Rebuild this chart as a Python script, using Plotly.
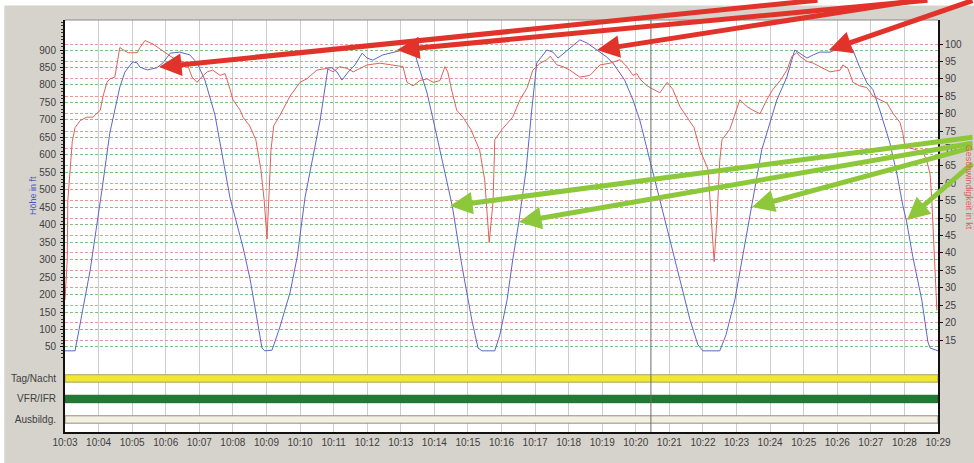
import pandas as pd
import plotly.graph_objects as go

DAY = "2024-05-01 "

# ---- Höhe (ft), blue, left axis ----
alt_time = ["10:03:00", "10:03:18", "10:03:25", "10:03:45", "10:04:06", "10:04:20", "10:04:38", "10:04:47", "10:05:01", "10:05:09",
            "10:05:14", "10:05:27", "10:05:44", "10:05:55", "10:06:08", "10:06:25", "10:06:43", "10:06:56", "10:07:10", "10:07:28",
            "10:07:55", "10:08:18", "10:08:31", "10:08:43", "10:08:52", "10:08:57", "10:09:10", "10:09:24", "10:09:42", "10:09:55",
            "10:10:03", "10:10:09", "10:10:36", "10:10:50", "10:10:57", "10:11:06", "10:11:15", "10:11:26", "10:11:38", "10:11:51",
            "10:12:00", "10:12:10", "10:12:28", "10:12:46", "10:13:04", "10:13:16", "10:13:25", "10:13:34", "10:13:47", "10:13:58",
            "10:14:10", "10:14:32", "10:14:49", "10:15:07", "10:15:18", "10:15:25", "10:15:48", "10:15:57", "10:16:10", "10:16:20",
            "10:16:31", "10:16:44", "10:16:54", "10:17:03", "10:17:21", "10:17:32", "10:17:41", "10:17:48", "10:17:57", "10:18:20",
            "10:18:33", "10:18:51", "10:19:08", "10:19:19", "10:19:40", "10:19:55", "10:20:07", "10:20:25", "10:20:43", "10:21:01",
            "10:21:19", "10:21:37", "10:21:51", "10:22:00", "10:22:30", "10:22:41", "10:22:57", "10:23:13", "10:23:28", "10:23:45",
            "10:24:12", "10:24:30", "10:24:44", "10:24:53", "10:25:06", "10:25:17", "10:25:29", "10:25:47", "10:26:05", "10:26:19",
            "10:26:28", "10:26:40", "10:26:53", "10:27:04", "10:27:16", "10:27:34", "10:27:47", "10:27:57", "10:28:04", "10:28:15",
            "10:28:31", "10:28:42", "10:28:46", "10:29:00"]
alt_ft = [39, 39, 99, 270, 499, 662, 794, 837, 866, 863,
          851, 843, 849, 863, 891, 894, 886, 863, 814, 714,
          476, 336, 242, 127, 47, 39, 41, 107, 205, 308,
          405, 479, 700, 849, 849, 837, 814, 837, 857, 891,
          877, 871, 886, 894, 900, 909, 891, 843, 777, 700,
          614, 454, 285, 127, 47, 39, 39, 84, 185, 299,
          408, 557, 728, 863, 900, 894, 877, 886, 900, 929,
          920, 900, 880, 863, 814, 757, 700, 585, 471, 356,
          242, 127, 56, 39, 39, 84, 185, 328, 451, 614,
          757, 823, 900, 891, 877, 886, 894, 894, 906, 909,
          900, 851, 806, 786, 728, 634, 542, 456, 408, 308,
          185, 64, 47, 39]

# ---- Geschwindigkeit (kt), red, right axis ----
spd_time = ["10:03:00", "10:03:04", "10:03:05", "10:03:13", "10:03:18", "10:03:27", "10:03:39", "10:03:50", "10:04:03", "10:04:08",
            "10:04:15", "10:04:20", "10:04:29", "10:04:38", "10:04:47", "10:04:53", "10:05:00", "10:05:09", "10:05:14", "10:05:23",
            "10:05:37", "10:05:55", "10:06:13", "10:06:38", "10:06:47", "10:06:56", "10:07:01", "10:07:14", "10:07:24", "10:07:37",
            "10:07:46", "10:07:55", "10:08:00", "10:08:13", "10:08:18", "10:08:30", "10:08:41", "10:08:50", "10:08:56", "10:09:01",
            "10:09:04", "10:09:08", "10:09:13", "10:09:24", "10:09:42", "10:10:00", "10:10:12", "10:10:30", "10:10:48", "10:10:59",
            "10:11:11", "10:11:24", "10:11:35", "10:12:00", "10:12:23", "10:12:46", "10:13:04", "10:13:11", "10:13:22", "10:13:34",
            "10:13:47", "10:13:58", "10:14:10", "10:14:19", "10:14:24", "10:14:32", "10:14:40", "10:14:51", "10:15:05", "10:15:21",
            "10:15:30", "10:15:38", "10:15:45", "10:15:48", "10:16:01", "10:16:20", "10:16:33", "10:16:46", "10:16:56", "10:17:09",
            "10:17:21", "10:17:27", "10:17:39", "10:17:50", "10:18:02", "10:18:20", "10:18:38", "10:18:56", "10:19:14", "10:19:32",
            "10:19:44", "10:19:55", "10:20:02", "10:20:07", "10:20:20", "10:20:31", "10:20:43", "10:20:56", "10:21:06", "10:21:19",
            "10:21:31", "10:21:44", "10:21:55", "10:22:09", "10:22:14", "10:22:20", "10:22:25", "10:22:30", "10:22:34", "10:22:48",
            "10:23:06", "10:23:19", "10:23:29", "10:23:42", "10:23:54", "10:24:05", "10:24:18", "10:24:30", "10:24:39", "10:24:48",
            "10:24:53", "10:25:06", "10:25:17", "10:25:29", "10:25:47", "10:26:05", "10:26:10", "10:26:19", "10:26:28", "10:26:40",
            "10:26:53", "10:27:04", "10:27:16", "10:27:29", "10:27:40", "10:27:52", "10:27:57", "10:28:01", "10:28:24", "10:28:33",
            "10:28:40", "10:28:46", "10:28:49", "10:28:53", "10:28:56", "10:28:58"]
spd_kt = [26.5, 38, 55, 72, 76, 78, 79, 79, 81, 85,
          89, 90, 90.5, 99, 98, 97.5, 97.5, 97.5, 99, 101,
          100, 98, 96, 94.5, 90.5, 89, 90, 92, 92.5, 91,
          91.5, 87, 84, 81, 79, 76.5, 72.5, 64, 55, 44,
          55, 69.5, 76.5, 79.5, 85, 89, 90, 92.5, 93, 92,
          93.5, 93, 92, 94, 94.5, 94, 93.5, 89, 88, 89.5,
          90, 89, 89.5, 93.5, 92, 86, 81, 79, 75.5, 69.5,
          61, 43, 55, 72.5, 75.5, 79, 84, 87.5, 92.5, 94.5,
          95.5, 96.5, 94, 93.5, 92.5, 90.5, 91, 94, 94.5, 95.5,
          93.5, 91, 91.5, 90, 88, 87, 86, 89, 87, 82,
          79, 76, 69.5, 64, 52, 37.5, 49.5, 66.5, 72.5, 75.5,
          84, 82, 81, 80, 84, 87, 89.5, 92.5, 96.5, 97.5,
          96.5, 95, 94.5, 93.5, 92, 92.5, 94, 93, 89, 88,
          87.5, 85, 84, 83, 80, 77.5, 74.5, 70.5, 69.5, 69,
          66.5, 62.5, 55, 41, 26.5, 23.5]

# ---- status lanes ----
lanes = ["Tag/Nacht", "VFR/IFR", "Ausbildg."]
lane_start = ["10:03:00", "10:03:00", "10:03:00"]
lane_end = ["10:29:00", "10:29:00", "10:29:00"]
lane_fill = ["#f0e832", "#1f7b34", "#f3f0e1"]
lane_edge = ["#a8a260", "#1a6a2c", "#8f8f86"]

# ---- axes ticks ----
alt_ticks = list(range(50, 901, 50))
spd_ticks = list(range(15, 101, 5))
x_start, x_end = "10:03", "10:29"
cursor_time = "10:20:27"

# ---- annotation arrows (head in paper coords, tail offset in px) ----
red_heads = [(0.1077, 0.8859), (0.3803, 0.9272), (0.6094, 0.9272), (0.8751, 0.9272)]
red_tails = [(660, -69), (532, -55), (322, -55), (150, -55)]
green_heads = [(0.4410, 0.5485), (0.5200, 0.5097), (0.7869, 0.5461), (0.9645, 0.5146)]
green_tails = [(530, -69), (461, -79), (228, -60), (73, -58)]

TICKFONT = dict(family="Liberation Sans, Arial, sans-serif", size=10, color="#404040")

fig = go.Figure()

fig.add_trace(go.Scatter(x=[DAY + t for t in alt_time], y=alt_ft, mode="lines",
                         line=dict(color="#5b67c4", width=1), name="Höhe", xaxis="x", yaxis="y"))
fig.add_trace(go.Scatter(x=[DAY + t for t in spd_time], y=spd_kt, mode="lines",
                         line=dict(color="#e0605c", width=1), name="Geschwindigkeit", xaxis="x", yaxis="y2"))

for name, s, e, fc, ec in zip(lanes, lane_start, lane_end, lane_fill, lane_edge):
    dur = (pd.Timestamp(DAY + e) - pd.Timestamp(DAY + s)).total_seconds() * 1000
    fig.add_trace(go.Bar(y=[name], x=[dur], base=[DAY + s], orientation="h", width=0.36,
                         marker=dict(color=fc, line=dict(color=ec, width=1)),
                         xaxis="x", yaxis="y3", name=name, hoverinfo="skip"))

annotations = []
for (hx, hy), (ax, ay) in zip(red_heads, red_tails):
    annotations.append(dict(x=hx, y=hy, xref="paper", yref="paper", ax=ax, ay=ay, showarrow=True,
                            arrowhead=2, arrowsize=0.9, arrowwidth=5, arrowcolor="#e2332b", text="", standoff=0))
for (hx, hy), (ax, ay) in zip(green_heads, green_tails):
    annotations.append(dict(x=hx, y=hy, xref="paper", yref="paper", ax=ax, ay=ay, showarrow=True,
                            arrowhead=2, arrowsize=0.9, arrowwidth=5, arrowcolor="#8cc83a", text="", standoff=0))
annotations.append(dict(x=-0.0367, y=0.575, xref="paper", yref="paper", text="Höhe in ft", textangle=-90,
                        xanchor="center", yanchor="middle",
                        showarrow=False, font=dict(family="Liberation Sans, Arial", size=9, color="#4b5cc0")))
annotations.append(dict(x=1.0356, y=0.595, xref="paper", yref="paper", text="Geschwindigkeit in kt", textangle=90,
                        xanchor="center", yanchor="middle",
                        showarrow=False, font=dict(family="Liberation Sans, Arial", size=9, color="#e0605c")))

shapes = [
    # white strips of the screenshot frame
    dict(type="rect", xref="paper", yref="paper", x0=-0.08, x1=1.05, y0=1.035, y1=1.06,
         fillcolor="white", line=dict(width=0), layer="below"),
    dict(type="rect", xref="paper", yref="paper", x0=-0.08, x1=-0.0695, y0=-0.1, y1=1.06,
         fillcolor="white", line=dict(width=0), layer="below"),
    # top border
    dict(type="line", xref="paper", yref="paper", x0=0, x1=1, y0=1, y1=1, line=dict(color="#8a8a8a", width=1)),
    # cursor line
    dict(type="line", xref="x", yref="paper", x0=DAY + cursor_time, x1=DAY + cursor_time, y0=0, y1=1,
         line=dict(color="#6d6d6d", width=1)),
]

fig.update_layout(
    width=974, height=463,
    margin=dict(l=65, r=36, t=20, b=31),
    paper_bgcolor="#d6d3cd", plot_bgcolor="white",
    showlegend=False, barmode="overlay",
    font=dict(family="Liberation Sans, Arial, sans-serif"),
    xaxis=dict(type="date", range=[DAY + x_start, DAY + x_end], anchor="y3",
               tick0=DAY + x_start, dtick=60000, tickformat="%H:%M", tickfont=TICKFONT,
               showgrid=True, gridcolor="#cdcdcd", gridwidth=1, ticks="", ticklen=0,
               showline=True, linecolor="#111", linewidth=2, zeroline=False),
    yaxis=dict(domain=[0.1748, 1], range=[12.8, 985.9], tickvals=alt_ticks, tickfont=TICKFONT,
               showgrid=True, gridcolor="#7fbf7f", gridwidth=1, griddash="3px,2px",
               showline=True, linecolor="#111", linewidth=2, ticks="outside", ticklen=3, tickcolor="#111",
               minor=dict(dtick=10, ticks="outside", ticklen=2, tickcolor="#333", showgrid=False),
               zeroline=False, anchor="x", ticklabelstandoff=2),
    yaxis2=dict(overlaying="y", side="right", range=[9.26, 106.9], tickvals=spd_ticks, tickfont=TICKFONT,
                showgrid=True, gridcolor="#e89a9a", gridwidth=1, griddash="3px,2px",
                showline=True, linecolor="#111", linewidth=2, ticks="outside", ticklen=3, tickcolor="#111",
                zeroline=False, anchor="x"),
    yaxis3=dict(domain=[0, 0.1748], type="category", categoryorder="array",
                categoryarray=list(reversed(lanes)), range=[-0.61, 2.9], tickfont=TICKFONT,
                showgrid=False, showline=True, linecolor="#111", linewidth=2, mirror=True,
                ticks="", zeroline=False, anchor="x", ticklabelstandoff=5),
    annotations=annotations,
    shapes=shapes,
)

fig.write_html("out.html", config={"displayModeBar": False},
               post_script="document.body.style.margin='0px';document.body.style.overflow='hidden';")
